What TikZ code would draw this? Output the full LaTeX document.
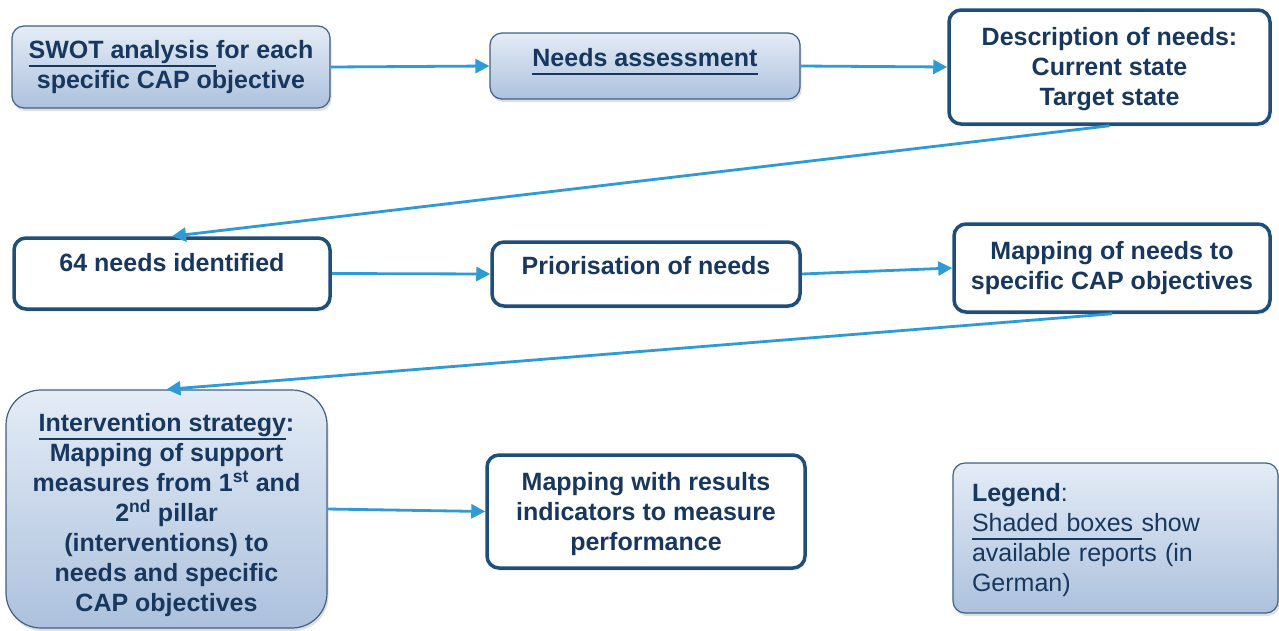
\documentclass[tikz,border=0pt]{standalone}
\usepackage{fontspec}
\setmainfont{Liberation Sans}
\usetikzlibrary{arrows.meta,shadows}
\definecolor{navy}{HTML}{17375E}
\definecolor{frame}{HTML}{1F4E79}
\definecolor{link}{HTML}{2E9AD6}
\definecolor{shadetop}{HTML}{E4ECF6}
\definecolor{shadebot}{HTML}{ADC1DD}
\definecolor{thinframe}{HTML}{3F5F86}
% underline drawn below the descenders, without changing the line depth
\newcommand\ulbar[1]{\leavevmode\setbox0\hbox{#1}\rlap{\smash{\rule[-8.5pt]{\wd0}{2pt}}}\box0}
\begin{document}
\begin{tikzpicture}[x=1pt,y=-1pt,
  basebox/.style={rounded corners=12pt, align=center, text=navy, inner sep=0pt,
    font=\fontsize{25}{30}\selectfont\bfseries},
  shadedbox/.style={basebox, draw=thinframe, line width=1.2pt,
    top color=shadetop, bottom color=shadebot,
    drop shadow={opacity=0.25, shadow xshift=1.5pt, shadow yshift=-3pt}},
  plainbox/.style={basebox, draw=frame, line width=3.5pt, fill=white,
    drop shadow={opacity=0.12, shadow xshift=1.5pt, shadow yshift=-3pt}},
  flow/.style={draw=link, line width=2.8pt, -{Triangle[length=14pt,width=14pt]}},
]
\useasboundingbox (0,0) rectangle (1279,630);

% first row
\node[shadedbox, minimum width=318pt, minimum height=82pt] (swot) at (171,67)
  {\ulbar{SWOT analysis }for each\\specific CAP objective};
\node[shadedbox, minimum width=310pt, minimum height=66pt, text depth=18pt] (assess) at (645,66)
  {\ulbar{Needs assessment}};
\node[plainbox, minimum width=321pt, minimum height=114pt] (desc) at (1109.5,67)
  {\rule{0pt}{22pt}Description of needs:\\Current state\\Target state};

% second row
\node[plainbox, minimum width=316pt, minimum height=71pt, text depth=22pt] (n64) at (172,273.5)
  {64 needs identified};
\node[plainbox, minimum width=308pt, minimum height=64pt, text depth=18pt] (prio) at (646,274)
  {Priorisation of needs};
\node[plainbox, minimum width=316pt, minimum height=88pt] (mapn) at (1112,268)
  {Mapping of needs to\\specific CAP objectives};

% third row
\node[shadedbox, rounded corners=35pt, minimum width=321pt, minimum height=238pt] (interv) at (166.5,509)
  {\rule{0pt}{30pt}\ulbar{Intervention strategy}:\\Mapping of support\\measures from 1\textsuperscript{st} and\\2\textsuperscript{nd} pillar\\(interventions) to\\needs and specific\\CAP objectives};
\node[plainbox, minimum width=318pt, minimum height=113pt] (res) at (646,511.5)
  {\rule{0pt}{23pt}Mapping with results\\indicators to measure\\performance};
\node[shadedbox, font=\fontsize{25}{30}\selectfont, align=left, text width=287pt,
  minimum width=325pt, minimum height=150pt] (legend) at (1115.5,538)
  {\rule{0pt}{22pt}\textbf{Legend}:\\\ulbar{Shaded boxes }show\\available reports (in\\German)};

% connectors
\draw[flow] (swot.east) -- (assess.west);
\draw[flow] (assess.east) -- (desc.west);
\draw[flow] (desc.south) -- (n64.north);
\draw[flow] (n64.east) -- (prio.west);
\draw[flow] (prio.east) -- (mapn.west);
\draw[flow] (mapn.south) -- (interv.north);
\draw[flow] (interv.east) -- (res.west);
\end{tikzpicture}
\end{document}
